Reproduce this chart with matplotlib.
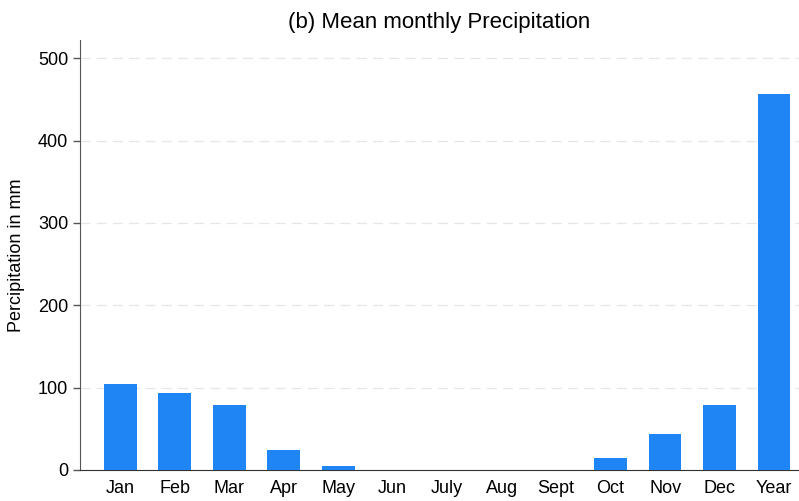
import matplotlib
matplotlib.use('Agg')
import matplotlib.pyplot as plt
import numpy as np

plt.rcParams['font.family'] = ['Liberation Sans', 'DejaVu Sans']

months = ['Jan', 'Feb', 'Mar', 'Apr', 'May', 'Jun', 'July', 'Aug', 'Sept',
          'Oct', 'Nov', 'Dec', 'Year']
precip = [104, 94, 79, 24, 5, 0, 0, 0, 0, 14, 44, 79, 456]

fig = plt.figure(figsize=(7.99, 5.01), dpi=100)
ax = fig.add_axes([0.1001, 0.0619, 0.9, 0.858])

x = np.arange(len(months))
ax.bar(x, precip, width=0.6, color='#1f85f5', zorder=3)

ax.set_xlim(-0.74, 12.46)
ax.set_ylim(0, 522)
ax.set_yticks([0, 100, 200, 300, 400, 500])
ax.set_xticks(x)
ax.set_xticklabels(months)
ax.tick_params(axis='x', length=0, pad=7, labelsize=13)
ax.tick_params(axis='y', length=5, width=1, color='#555555', labelsize=13)
ax.yaxis.grid(True, linestyle=(0, (8, 5)), color='#e6e6e6', linewidth=0.9, zorder=0)

for side in ['top', 'right']:
    ax.spines[side].set_visible(False)
ax.spines['left'].set_color('#555555')
ax.spines['bottom'].set_color('#333333')

ax.set_ylabel('Percipitation in mm', fontsize=13, labelpad=9)
ax.set_title('(b) Mean monthly Precipitation', fontsize=16, pad=9)

fig.savefig('out.png', dpi=100)
